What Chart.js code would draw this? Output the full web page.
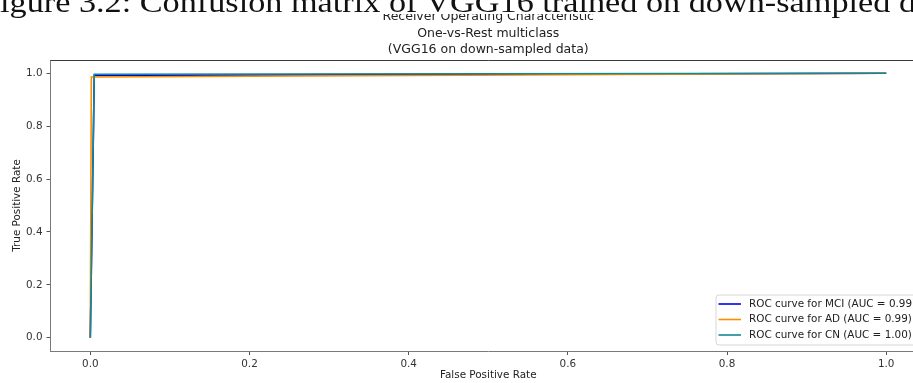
<!DOCTYPE html>
<html>
<head>
<meta charset="utf-8">
<script src="https://cdn.jsdelivr.net/npm/chart.js@4.4.1/dist/chart.umd.min.js"></script>
<style>
  html, body { margin: 0; padding: 0; background: #fff; overflow: hidden; width: 913px; height: 383px; }
  #wrap { position: absolute; left: 0; top: 0; width: 976px; height: 383px; }
  #cap { position: absolute; left: 0; top: 0; width: 913px; height: 14px; background: #fff; overflow: visible; z-index: 2; }
  #capText { position: absolute; left: 0; top: -12px; font-family: "Liberation Serif", "DejaVu Serif", serif; font-size: 29px; line-height: 29px; white-space: nowrap; color: #111; transform-origin: 0 0; }
</style>
</head>
<body>
<div id="wrap"><canvas id="c" width="976" height="383"></canvas></div>
<div id="cap"><span id="capText">igure 3.2: Confusion matrix of VGG16 trained on down-sampled d</span></div>
<script>
// ---- data ----
const titleLines = ["Receiver Operating Characteristic", "One-vs-Rest multiclass", "(VGG16 on down-sampled data)"];
const xTitle = "False Positive Rate";
const yTitle = "True Positive Rate";
const xTicks = [0.0, 0.2, 0.4, 0.6, 0.8, 1.0];
const yTicks = [0.0, 0.2, 0.4, 0.6, 0.8, 1.0];
const seriesNames = ["ROC curve for MCI (AUC = 0.99)", "ROC curve for AD (AUC = 0.99)", "ROC curve for CN (AUC = 1.00)"];
const seriesColors = ["#0000ee", "#ff8c00", "#138a8c"];
const fprMCI = [0.0, 0.005, 1.0];
const tprMCI = [0.0, 0.992, 1.0];
const fprAD = [0.0, 0.0013, 1.0];
const tprAD = [0.0, 0.986, 1.0];
const fprCN = [0.0, 0.005, 1.0];
const tprCN = [0.0, 0.996, 1.0];

// caption scaling
(function(){
  const s = document.getElementById('capText');
  const w = s.getBoundingClientRect().width;
  s.style.transform = 'scaleX(' + (916 / w) + ')';
})();

function pts(xs, ys) { return xs.map((x, i) => ({x: x, y: ys[i]})); }

const FONT = '"DejaVu Sans"';

const frameLegend = {
  id: 'frameLegend',
  afterDraw(chart) {
    const ctx = chart.ctx, a = chart.chartArea;
    ctx.save();
    ctx.fillStyle = '#222';
    ctx.font = '12.5px ' + FONT;
    ctx.textAlign = 'center';
    ctx.textBaseline = 'middle';
    const cx = (a.left + a.right) / 2;
    titleLines.forEach((t, i) => ctx.fillText(t, cx, a.top - 43.3 + i * 16.7));
    ctx.restore();
  },
  afterDatasetsDraw(chart) {
    const ctx = chart.ctx, a = chart.chartArea;
    ctx.save();
    ctx.strokeStyle = '#3a3a3a';
    ctx.lineWidth = 1;
    ctx.beginPath();
    ctx.moveTo(a.left, a.top + 0.5); ctx.lineTo(a.right, a.top + 0.5);
    ctx.moveTo(a.right - 0.5, a.top); ctx.lineTo(a.right - 0.5, a.bottom);
    ctx.stroke();
    const lx = a.right - 210, ly = a.bottom - 56, lw = 204, lh = 50, r = 3;
    ctx.beginPath();
    ctx.moveTo(lx + r, ly);
    ctx.arcTo(lx + lw, ly, lx + lw, ly + lh, r);
    ctx.arcTo(lx + lw, ly + lh, lx, ly + lh, r);
    ctx.arcTo(lx, ly + lh, lx, ly, r);
    ctx.arcTo(lx, ly, lx + lw, ly, r);
    ctx.closePath();
    ctx.fillStyle = 'rgba(255,255,255,0.8)';
    ctx.fill();
    ctx.strokeStyle = '#d6d6d6';
    ctx.stroke();
    ctx.font = '10.4px ' + FONT;
    ctx.textBaseline = 'middle';
    chart.data.datasets.forEach((ds, i) => {
      const yy = ly + 9 + i * 15.5;
      ctx.strokeStyle = ds.borderColor;
      ctx.lineWidth = 1.6;
      ctx.beginPath();
      ctx.moveTo(lx + 2.5, yy); ctx.lineTo(lx + 25, yy);
      ctx.stroke();
      ctx.fillStyle = '#222';
      ctx.fillText(ds.label, lx + 33, yy);
    });
    ctx.restore();
  }
};

new Chart(document.getElementById('c'), {
  type: 'line',
  data: {
    datasets: [
      { label: seriesNames[0], data: pts(fprMCI, tprMCI), borderColor: seriesColors[0] },
      { label: seriesNames[1], data: pts(fprAD, tprAD), borderColor: seriesColors[1] },
      { label: seriesNames[2], data: pts(fprCN, tprCN), borderColor: seriesColors[2] }
    ].map((d, i) => Object.assign(d, { borderWidth: 1.6, pointRadius: 0, tension: 0, fill: false, order: 3 - i }))
  },
  options: {
    responsive: false,
    animation: false,
    devicePixelRatio: 1,
    layout: { padding: { left: 0, right: 50, top: 60, bottom: 0 } },
    plugins: {
      legend: { display: false },
      tooltip: { enabled: false },
      title: { display: false }
    },
    scales: {
      x: {
        type: 'linear', min: -0.05, max: 1.05,
        afterBuildTicks: s => { s.ticks = xTicks.map(v => ({value: v})); },
        afterFit: s => { s.height = 32; },
        ticks: { color: '#333', font: { family: 'DejaVu Sans', size: 10.4 }, padding: 3, maxRotation: 0, callback: v => v.toFixed(1) },
        grid: { display: true, drawOnChartArea: false, drawTicks: true, tickLength: 4, tickColor: '#555' },
        border: { display: true, color: '#7a7a7a', width: 1 },
        title: { display: true, text: xTitle, color: '#222', font: { family: 'DejaVu Sans', size: 10.4 }, padding: { top: 0, bottom: 1 } }
      },
      y: {
        type: 'linear', min: -0.05, max: 1.05,
        afterBuildTicks: s => { s.ticks = yTicks.map(v => ({value: v})); },
        afterFit: s => { s.width = 50.5; },
        ticks: { color: '#333', font: { family: 'DejaVu Sans', size: 10.4 }, padding: 4, callback: v => v.toFixed(1) },
        grid: { display: true, drawOnChartArea: false, drawTicks: true, tickLength: 4, tickColor: '#555' },
        border: { display: true, color: '#7a7a7a', width: 1 },
        title: { display: true, text: yTitle, color: '#222', font: { family: 'DejaVu Sans', size: 10.4 }, padding: { top: 11, bottom: 0 } }
      }
    }
  },
  plugins: [frameLegend]
});
</script>
</body>
</html>
